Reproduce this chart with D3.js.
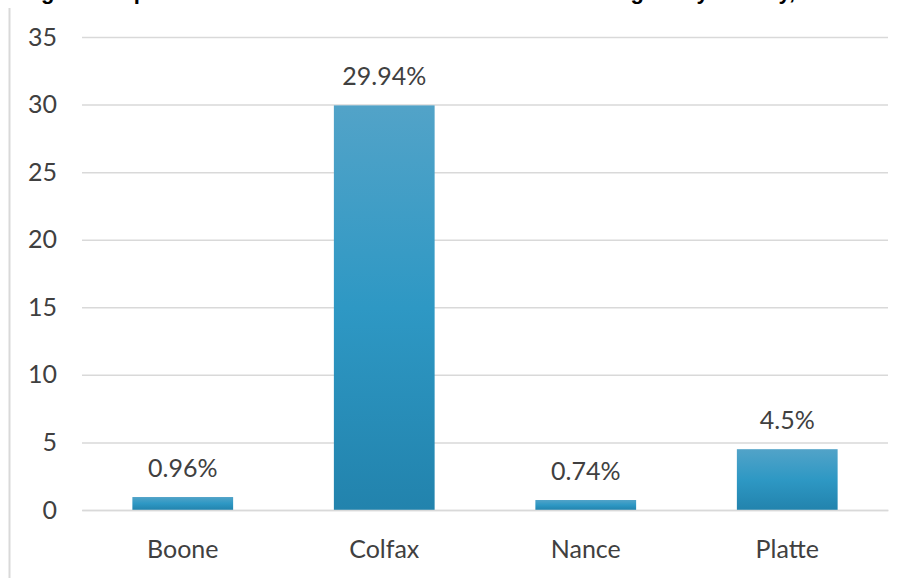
<!DOCTYPE html>
<html>
<head>
<meta charset="utf-8">
<script src="https://cdn.jsdelivr.net/npm/d3@7"></script>
<style>
  html, body { margin: 0; padding: 0; background: #ffffff; }
  svg { display: block; }
</style>
</head>
<body>
<div id="chart"></div>
<script>
// County shares, in percent
const counties = ["Boone", "Colfax", "Nance", "Platte"];
const shares = [0.96, 29.94, 0.74, 4.5];
const shareLabels = ["0.96%", "29.94%", "0.74%", "4.5%"];
const yTicks = [0, 5, 10, 15, 20, 25, 30, 35];
const titleText = "Percentage of Hispanic Residents Who Are Not Citizens in the Region by County, 2010";

const W = 908, H = 578;
const margin = { top: 37, right: 20, bottom: 68, left: 82 };
const plotRight = 888;

const svg = d3.select("#chart").append("svg")
  .attr("width", W).attr("height", H);

const font = "Lato, 'Open Sans', sans-serif";
const fontSize = 25;
const textColor = "#404040";

// Bar fill: lighter at the top, deeper blue at the base
const grad = svg.append("defs").append("linearGradient")
  .attr("id", "barFill").attr("x1", 0).attr("y1", 0).attr("x2", 0).attr("y2", 1);
grad.append("stop").attr("offset", "0%").attr("stop-color", "#52a3c8");
grad.append("stop").attr("offset", "50%").attr("stop-color", "#2e98c4");
grad.append("stop").attr("offset", "100%").attr("stop-color", "#2283ad");

// Title sits above the visible frame; only its lower edge shows
svg.append("text")
  .attr("x", -52).attr("y", -1.5)
  .attr("font-family", "'Liberation Sans', Arial, sans-serif")
  .attr("font-weight", "bold")
  .attr("font-size", 22)
  .attr("fill", "#000")
  .text(titleText);

// Chart frame edge on the left
svg.append("line")
  .attr("x1", 9.5).attr("x2", 9.5).attr("y1", 8).attr("y2", H)
  .attr("stroke", "#d9d9d9").attr("stroke-width", 2);

const x = d3.scaleBand()
  .domain(counties)
  .range([margin.left, plotRight])
  .paddingInner(0.5).paddingOuter(0.25);

const y = d3.scaleLinear()
  .domain([0, 35])
  .range([510, margin.top]);

// Gridlines and value axis
const yAxis = d3.axisLeft(y).tickValues(yTicks).tickSize(-(plotRight - margin.left)).tickPadding(25);
const gy = svg.append("g")
  .attr("transform", `translate(${margin.left},0)`)
  .call(yAxis);
gy.select(".domain").remove();
gy.selectAll(".tick line").attr("stroke", "#d9d9d9").attr("stroke-width", 1.5);
gy.selectAll(".tick text")
  .attr("font-family", font).attr("font-size", fontSize)
  .attr("fill", textColor);

// Bars
svg.append("g").selectAll("rect")
  .data(counties)
  .join("rect")
  .attr("x", d => x(d))
  .attr("width", x.bandwidth())
  .attr("y", (d, i) => y(shares[i]))
  .attr("height", (d, i) => y(0) - y(shares[i]))
  .attr("fill", "url(#barFill)");

// Value labels above bars
svg.append("g").selectAll("text")
  .data(counties)
  .join("text")
  .attr("x", d => x(d) + x.bandwidth() / 2)
  .attr("y", (d, i) => y(shares[i]) - 20)
  .attr("text-anchor", "middle")
  .attr("font-family", font).attr("font-size", fontSize)
  .attr("fill", textColor)
  .text((d, i) => shareLabels[i]);

// Category axis
const xAxis = d3.axisBottom(x).tickSize(0).tickPadding(30);
const gx = svg.append("g")
  .attr("transform", `translate(0,${y(0)})`)
  .call(xAxis);
gx.select(".domain").attr("stroke", "#d9d9d9").attr("stroke-width", 1.5);
gx.selectAll(".tick text")
  .attr("font-family", font).attr("font-size", fontSize)
  .attr("fill", textColor);
</script>
</body>
</html>
